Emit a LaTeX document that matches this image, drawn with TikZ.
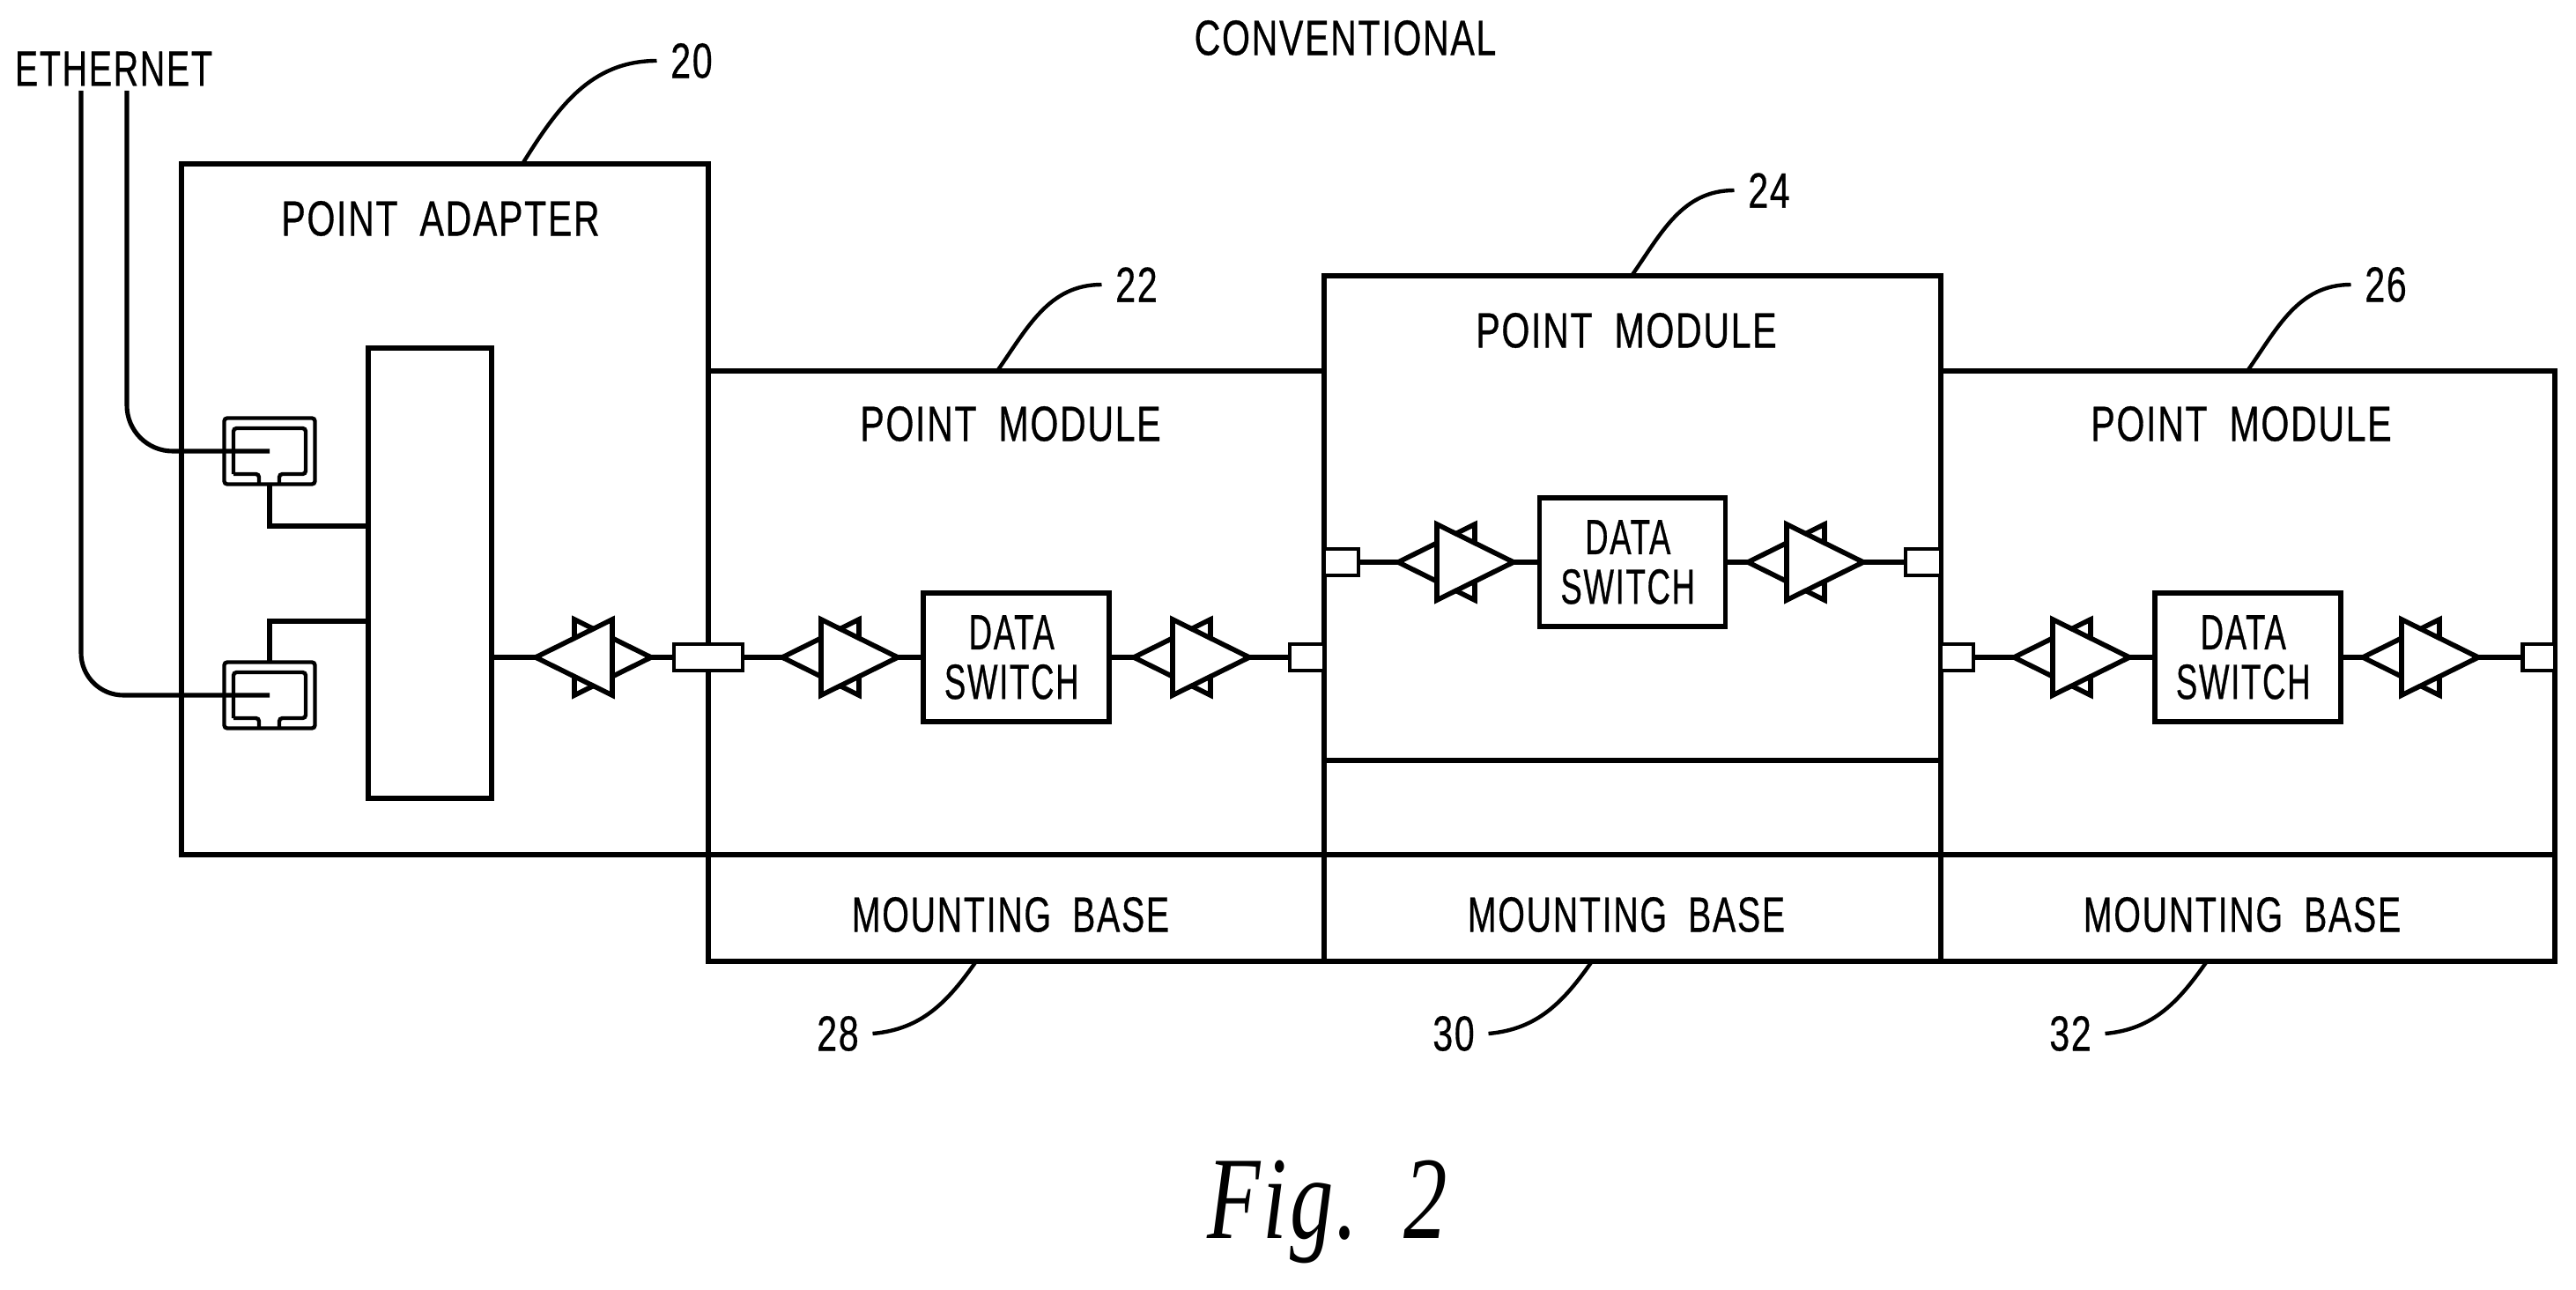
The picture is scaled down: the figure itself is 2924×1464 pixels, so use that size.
\documentclass[tikz,border=0pt]{standalone}
\usepackage{fontspec}
\setmainfont{Liberation Sans}[FakeStretch=0.73,WordSpace=1.9,LetterSpace=3,FakeBold=0.5]
\newfontfamily\narrowfont{Liberation Sans}[FakeStretch=0.70,WordSpace=1.9,LetterSpace=3,FakeBold=0.5]
\newfontfamily\dsfont{Liberation Sans}[FakeStretch=0.65,LetterSpace=3,FakeBold=0.5]
\newfontfamily\figfont{Liberation Serif Italic}[FakeStretch=0.74,LetterSpace=2,WordSpace=1.6]
\newcommand{\boxat}[6]{%
  \node[#1,minimum width={(#5-#3)*0.01cm},minimum height={(#6-#4)*0.01cm}] (#2) at ({(#3+#5)/2},{(#4+#6)/2}) {};}
\newcommand{\myamp}[3]{%
  \coordinate (#1-l) at (#2,#3);\coordinate (#1-r) at (#2+131,#3);
  \draw[ampline] (#2,#3) -- (#2+87,#3-43) -- (#2+87,#3+43) -- cycle;
  \draw[ampline] (#2+131,#3) -- (#2+44,#3-43) -- (#2+44,#3+43) -- cycle;}
\newcommand{\myampb}[3]{%
  \coordinate (#1-l) at (#2,#3);\coordinate (#1-r) at (#2+131,#3);
  \draw[ampline] (#2+131,#3) -- (#2+44,#3-43) -- (#2+44,#3+43) -- cycle;
  \draw[ampline] (#2,#3) -- (#2+87,#3-43) -- (#2+87,#3+43) -- cycle;}
\newcommand{\myjack}[3]{%
  \node[jackbox,minimum width=1.03cm,minimum height=0.75cm] (#1) at (#2,#3) {};
  \draw[jackline,rounded corners=1pt] (#2-41,#3+26) -- (#2-41,#3-26) -- (#2+41,#3-26) -- (#2+41,#3+26)
     -- (#2+11,#3+26) -- (#2+11,#3+37);
  \draw[jackline,rounded corners=1pt] (#2-41,#3+26) -- (#2-12,#3+26) -- (#2-12,#3+37);}
\newcommand{\lab}{\fontsize{16}{16}\selectfont}
\tikzset{
  x=0.01cm,y=-0.01cm,
  plainwall/.style={draw=black,line width=1.9pt,inner sep=0pt,outer sep=0pt,rectangle},
  dsbox/.style={draw=black,line width=1.6pt,inner sep=0pt,outer sep=0pt,fill=white,rectangle,
     minimum width=2.11cm,minimum height=1.46cm,align=center,font=\dsfont\lab},
  conbox/.style={draw=black,line width=1.4pt,inner sep=0pt,outer sep=0pt,fill=white,rectangle},
  jackbox/.style={draw=black,line width=1.25pt,inner sep=0pt,outer sep=0pt,fill=white,rectangle,rounded corners=1pt},
  jackline/.style={line width=1.25pt},
  ampline/.style={draw=black,line width=1.6pt,fill=white,line join=miter},
  wire/.style={line width=1.45pt},
  lead/.style={line width=1.25pt},
  txt/.style={font=\lab,inner sep=0pt,outer sep=0pt},
  basetxt/.style={font=\narrowfont\lab,inner sep=0pt,outer sep=0pt},
  num/.style={font=\lab,inner sep=0pt,outer sep=4.5pt}
}
\begin{document}
\begin{tikzpicture}
\useasboundingbox (0,0) rectangle (2924,1464);
% housings
\boxat{plainwall}{adapter}{206}{186}{804}{970}
\boxat{plainwall}{m22}{804}{421}{1503}{970}
\boxat{plainwall}{m24}{1503}{313}{2203}{970}
\boxat{plainwall}{m24low}{1503}{863}{2203}{970}
\boxat{plainwall}{m26}{2203}{421}{2900}{970}
\boxat{plainwall}{b28}{804}{970}{1503}{1091}
\boxat{plainwall}{b30}{1503}{970}{2203}{1091}
\boxat{plainwall}{b32}{2203}{970}{2900}{1091}
% texts
\node[txt] (tconv) at (1527,43) {CONVENTIONAL};
\node[basetxt] (teth) at (129,78) {ETHERNET};
\node[txt] (tad) at (500,248) {POINT ADAPTER};
\node[txt] (t22) at (1147,481) {POINT MODULE};
\node[txt] (t24) at (1846,375) {POINT MODULE};
\node[txt] (t26) at (2544,481) {POINT MODULE};
\node[basetxt] (tb28) at (1147,1038) {MOUNTING BASE};
\node[basetxt] (tb30) at (1846,1038) {MOUNTING BASE};
\node[basetxt] (tb32) at (2545,1038) {MOUNTING BASE};
\node[inner sep=0pt] (fig) at (1507,1375) {\figfont\fontsize{38}{38}\selectfont Fig. 2};
% reference numerals
\node[num] (l20) at (785,69) {20};
\node[num] (l22) at (1290,323) {22};
\node[num] (l24) at (2008,216) {24};
\node[num] (l26) at (2708,323) {26};
\node[num] (l28) at (951,1173) {28};
\node[num] (l30) at (1650,1173) {30};
\node[num] (l32) at (2350,1173) {32};
\coordinate (e20) at (593,186);
\coordinate (e22) at (1132,421);
\coordinate (e24) at (1852,313);
\coordinate (e26) at (2551,421);
\coordinate (e28) at (1108,1091);
\coordinate (e30) at (1807,1091);
\coordinate (e32) at (2505,1091);
\draw[lead] (l20.west) to[out=180,in=58] (e20);
\draw[lead] (l22.west) to[out=180,in=55] (e22);
\draw[lead] (l24.west) to[out=180,in=55] (e24);
\draw[lead] (l26.west) to[out=180,in=55] (e26);
\draw[lead] (l28.east) to[out=5,in=235] (e28);
\draw[lead] (l30.east) to[out=5,in=235] (e30);
\draw[lead] (l32.east) to[out=5,in=235] (e32);
% adapter internals
\boxat{dsbox,minimum width=0pt}{block}{418}{395}{558}{906}
\myjack{j1}{306}{512}
\myjack{j2}{306}{789}
\coordinate (ea) at (144,103);
\coordinate (eb) at (92,103);
\coordinate (bk1) at (418,597);
\coordinate (bk2) at (418,705);
\draw[wire,rounded corners=0.52cm] (ea) |- (j1.center);
\draw[wire,rounded corners=0.48cm] (eb) |- (j2.center);
\draw[wire] (j1.south) |- (bk1);
\draw[wire] (j2.north) |- (bk2);
% connectors
\boxat{conbox}{c1}{765}{731}{843}{761}
\boxat{conbox}{c2}{1464}{731}{1503}{761}
\boxat{conbox}{c3}{1503}{623}{1542}{653}
\boxat{conbox}{c4}{2163}{623}{2203}{653}
\boxat{conbox}{c5}{2203}{731}{2240}{761}
\boxat{conbox}{c6}{2863}{731}{2900}{761}
% data switches
\node[dsbox] (d22) at (1153.5,746) {DATA\kern 3pt\\SWITCH\kern 3pt};
\node[dsbox] (d24) at (1853,638) {DATA\kern 3pt\\SWITCH\kern 3pt};
\node[dsbox] (d26) at (2551.5,746) {DATA\kern 3pt\\SWITCH\kern 3pt};
% wires, then triangles on top
\coordinate (bkout) at (558,746);
\myampb{a0}{608}{746}
\myamp{a1}{888}{746}
\myamp{a2}{1287}{746}
\myamp{a3}{1587}{638}
\myamp{a4}{1984}{638}
\myamp{a5}{2286}{746}
\myamp{a6}{2682}{746}
\draw[wire] (bkout) -- (a0-l);
\draw[wire] (a0-r) -- (c1.west);
\draw[wire] (c1.east) -- (a1-l);
\draw[wire] (a1-r) -- (d22.west);
\draw[wire] (d22.east) -- (a2-l);
\draw[wire] (a2-r) -- (c2.west);
\draw[wire] (c3.east) -- (a3-l);
\draw[wire] (a3-r) -- (d24.west);
\draw[wire] (d24.east) -- (a4-l);
\draw[wire] (a4-r) -- (c4.west);
\draw[wire] (c5.east) -- (a5-l);
\draw[wire] (a5-r) -- (d26.west);
\draw[wire] (d26.east) -- (a6-l);
\draw[wire] (a6-r) -- (c6.west);
\end{tikzpicture}
\end{document}
